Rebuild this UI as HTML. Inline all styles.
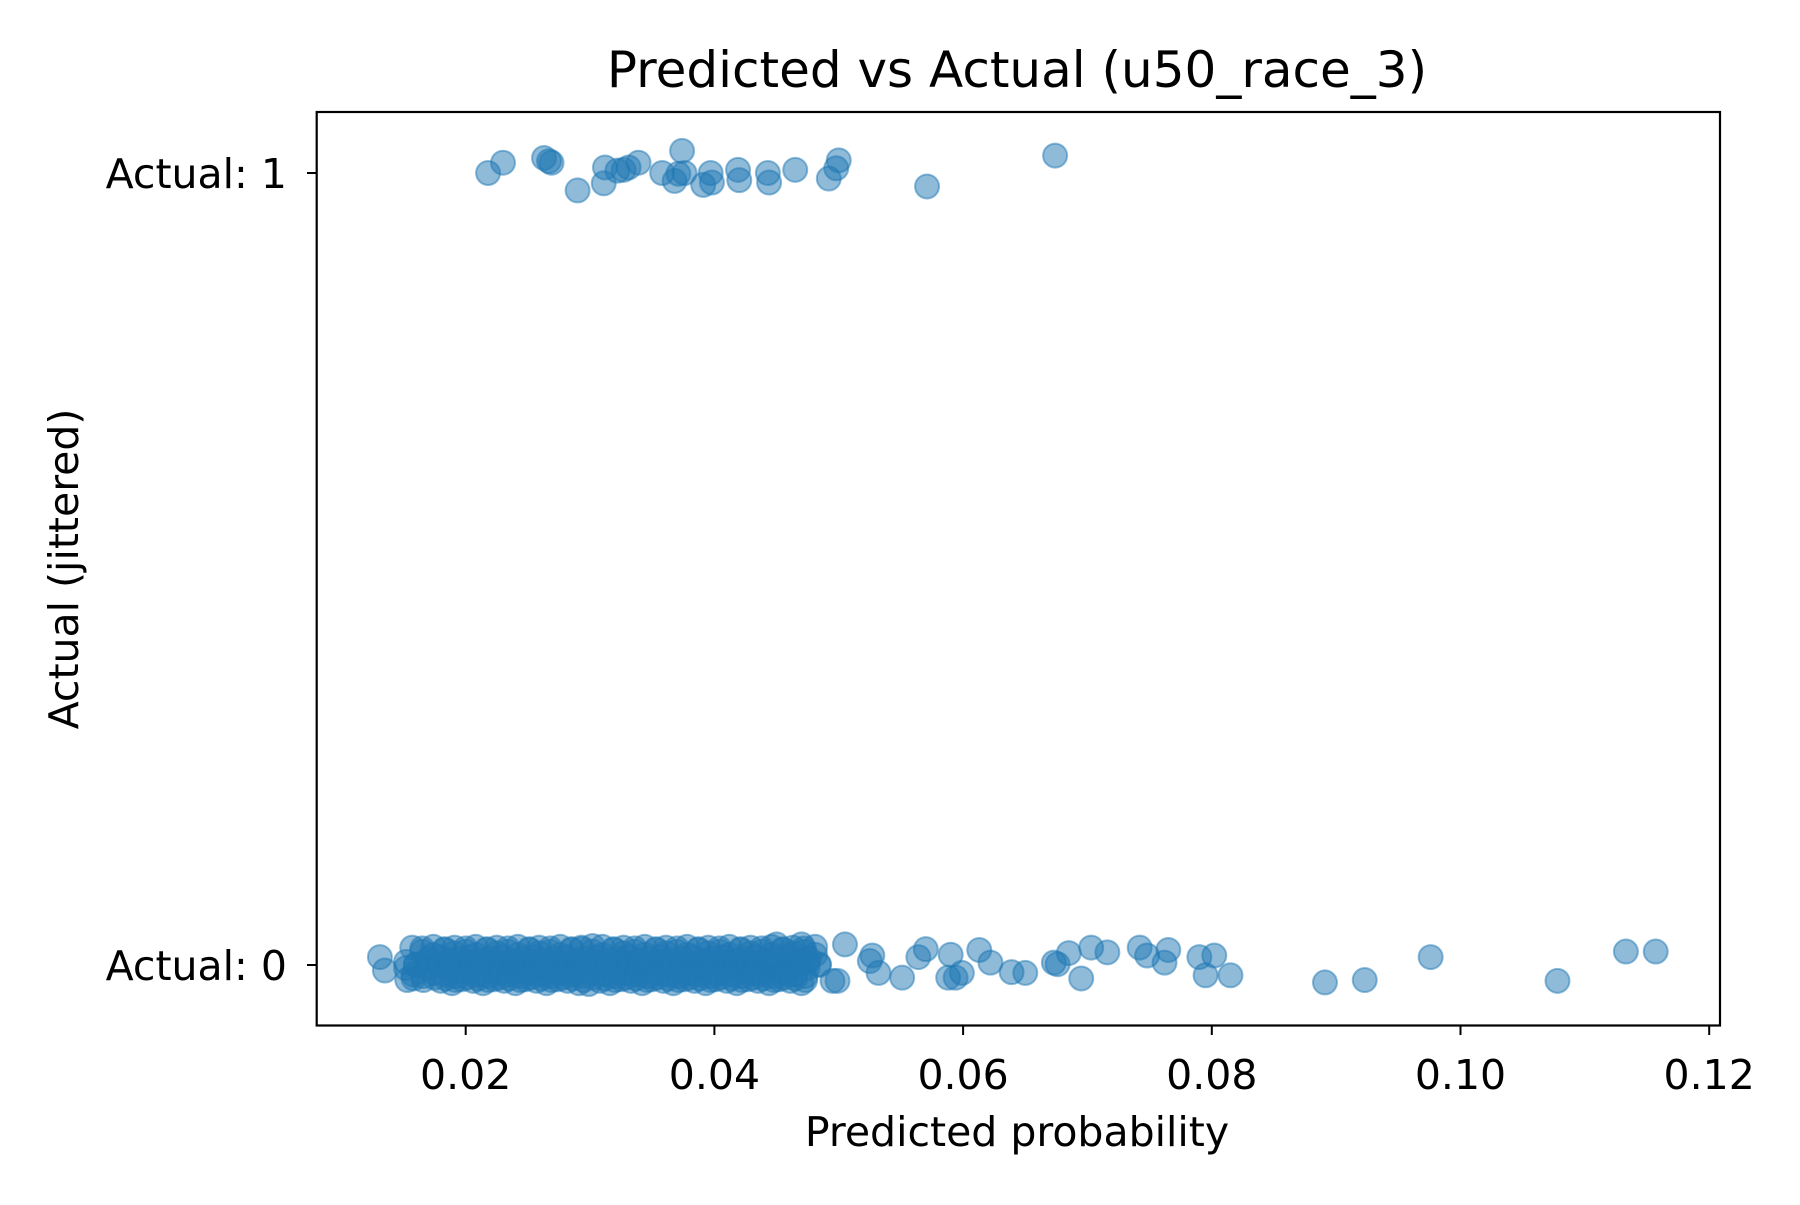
<!DOCTYPE html>
<html><head><meta charset="utf-8"><style>
body{margin:0;background:#fff}
svg text{font-family:"DejaVu Sans","Liberation Sans",sans-serif;fill:#000}
</style></head><body>
<svg id="chart" width="1800" height="1200" xmlns="http://www.w3.org/2000/svg">
<rect width="1800" height="1200" fill="#fff"/>
<g id="points"></g>
<rect x="316.7" y="112" width="1403.3" height="913.5" fill="none" stroke="#000" stroke-width="2.2"/>
<g id="axes"></g>
<text x="1017" y="87" font-size="50" text-anchor="middle">Predicted vs Actual (u50_race_3)</text>
<text x="1017" y="1146" font-size="41" text-anchor="middle">Predicted probability</text>
<text x="0" y="0" font-size="41" text-anchor="middle" transform="translate(78,569) rotate(-90)">Actual (jittered)</text>
</svg>
<script>
const xTicks=[0.02,0.04,0.06,0.08,0.10,0.12];
const xTickLabels=["0.02","0.04","0.06","0.08","0.10","0.12"];
const yTicks=[0,1];
const yTickLabels=["Actual: 0","Actual: 1"];
// Actual = 1 points
const pos1Pred=[0.0218,0.0230,0.0263,0.0267,0.0269,0.0290,0.0311,0.0312,0.0322,0.0327,0.0331,0.0339,0.0358,0.0368,0.0371,0.0374,0.0376,0.0391,0.0397,0.0398,0.0419,0.0420,0.0443,0.0444,0.0465,0.0492,0.0498,0.0500,0.0571,0.0674];
const pos1Jit=[0,0.013,0.019,0.015,0.013,-0.022,-0.013,0.007,0.003,0.004,0.007,0.013,0,-0.010,-0.001,0.028,0,-0.015,0,-0.012,0.004,-0.009,0,-0.012,0.004,-0.007,0.006,0.016,-0.017,0.022];
// Actual = 0 sparse points
const neg0Pred=[0.0131,0.0135,0.0153,0.0157,0.0450,0.0470,0.0495,0.0499,0.0505,0.0525,0.0527,0.0532,0.0551,0.0564,0.0570,0.0590,0.0588,0.0594,0.0599,0.0613,0.0622,0.0639,0.0650,0.0673,0.0676,0.0685,0.0695,0.0703,0.0716,0.0742,0.0748,0.0762,0.0765,0.0790,0.0795,0.0802,0.0815,0.0891,0.0923,0.0976,0.1078,0.1133,0.1157];
const neg0Jit=[0.010,-0.007,-0.019,0.022,0.026,0.026,-0.020,-0.020,0.026,0.005,0.012,-0.010,-0.016,0.010,0.020,0.013,-0.016,-0.016,-0.010,0.019,0.003,-0.009,-0.010,0.003,0.001,0.015,-0.017,0.022,0.016,0.022,0.012,0.003,0.019,0.010,-0.013,0.012,-0.013,-0.022,-0.019,0.010,-0.020,0.017,0.017];
// Actual = 0 dense cluster
const denseAPred=[0.0165,0.0174,0.0183,0.0191,0.0200,0.0208,0.0217,0.0225,0.0234,0.0242,0.0251,0.0259,0.0268,0.0276,0.0285,0.0293,0.0302,0.0310,0.0319,0.0327,0.0336,0.0344,0.0353,0.0361,0.0370,0.0378,0.0387,0.0395,0.0404,0.0412,0.0421,0.0429,0.0438,0.0446,0.0455,0.0463,0.0472,0.0481];
const denseAJit=[0.017,0.013,0.019,0.015,0.017,0.013,0.019,0.015,0.017,0.013,0.019,0.015,0.017,0.013,0.019,0.020,0.017,0.013,0.019,0.015,0.017,0.013,0.019,0.015,0.017,0.013,0.019,0.015,0.017,0.013,0.019,0.015,0.017,0.013,0.019,0.015,0.017,0.013];
const denseHJit=[0.021,0.023,0.020,0.022,0.021,0.023,0.020,0.022,0.021,0.023,0.020,0.022,0.021,0.023,0.020,0.022,0.024,0.023,0.020,0.022,0.021,0.023,0.020,0.022,0.021,0.023,0.020,0.022,0.021,0.023,0.020,0.022,0.021,0.023,0.020,0.022,0.021,0.023];
const denseBPred=[0.0152,0.0160,0.0169,0.0177,0.0186,0.0194,0.0203,0.0211,0.0220,0.0228,0.0237,0.0245,0.0254,0.0262,0.0271,0.0279,0.0288,0.0296,0.0305,0.0313,0.0322,0.0330,0.0339,0.0347,0.0356,0.0364,0.0373,0.0381,0.0390,0.0398,0.0407,0.0415,0.0424,0.0432,0.0441,0.0449,0.0458,0.0466,0.0475,0.0484];
const denseBJit=[-0.004,0.001,-0.004,0.001,-0.004,0.001,-0.004,0.001,-0.004,0.001,-0.004,0.001,-0.004,0.001,-0.004,0.001,-0.004,0.001,-0.004,0.001,-0.004,0.001,-0.004,0.001,-0.004,0.001,-0.004,0.001,-0.004,0.001,-0.004,0.001,-0.004,0.001,-0.004,0.001,-0.004,0.001,-0.004,0.001];
const denseFJit=[0.004,0.000,0.004,0.000,0.004,0.000,0.004,0.000,0.004,0.000,0.004,0.000,0.004,0.000,0.004,0.000,0.004,0.000,0.004,0.000,0.004,0.000,0.004,0.000,0.004,0.000,0.004,0.000,0.004,0.000,0.004,0.000,0.004,0.000,0.004,0.000,0.004,0.000,0.004,0.000];
const denseCPred=[0.0180,0.0189,0.0197,0.0206,0.0214,0.0223,0.0231,0.0240,0.0248,0.0257,0.0265,0.0274,0.0282,0.0291,0.0299,0.0308,0.0316,0.0325,0.0333,0.0342,0.0350,0.0359,0.0367,0.0376,0.0384,0.0393,0.0401,0.0410,0.0418,0.0427,0.0435,0.0444,0.0452,0.0461,0.0470];
const denseCJit=[-0.020,-0.023,-0.018,-0.020,-0.023,-0.018,-0.020,-0.023,-0.018,-0.020,-0.023,-0.018,-0.020,-0.023,-0.024,-0.020,-0.023,-0.018,-0.020,-0.023,-0.018,-0.020,-0.023,-0.018,-0.020,-0.023,-0.018,-0.020,-0.023,-0.018,-0.020,-0.023,-0.018,-0.020,-0.023];
const denseDPred=[0.0170,0.0179,0.0187,0.0196,0.0204,0.0212,0.0221,0.0229,0.0238,0.0246,0.0255,0.0263,0.0272,0.0280,0.0289,0.0297,0.0306,0.0314,0.0323,0.0331,0.0340,0.0348,0.0357,0.0365,0.0374,0.0382,0.0391,0.0399,0.0408,0.0416,0.0425,0.0433,0.0442,0.0450,0.0459,0.0467,0.0476];
const denseDJit=[0.008,0.010,0.006,0.008,0.010,0.006,0.008,0.010,0.006,0.008,0.010,0.006,0.008,0.010,0.006,0.008,0.010,0.006,0.008,0.010,0.006,0.008,0.010,0.006,0.008,0.010,0.006,0.008,0.010,0.006,0.008,0.010,0.006,0.008,0.010,0.006,0.008];
const denseEPred=[0.0158,0.0166,0.0175,0.0184,0.0192,0.0201,0.0210,0.0218,0.0227,0.0235,0.0244,0.0252,0.0261,0.0269,0.0278,0.0286,0.0295,0.0303,0.0312,0.0320,0.0329,0.0337,0.0346,0.0354,0.0363,0.0371,0.0380,0.0388,0.0397,0.0405,0.0414,0.0422,0.0431,0.0439,0.0448,0.0456,0.0465,0.0473];
const denseEJit=[-0.012,-0.014,-0.010,-0.012,-0.014,-0.010,-0.012,-0.014,-0.010,-0.012,-0.014,-0.010,-0.012,-0.014,-0.010,-0.012,-0.014,-0.010,-0.012,-0.014,-0.010,-0.012,-0.014,-0.010,-0.012,-0.014,-0.010,-0.012,-0.014,-0.010,-0.012,-0.014,-0.010,-0.012,-0.014,-0.010,-0.012,-0.014];
const denseGJit=[-0.017,-0.019,-0.016,-0.017,-0.019,-0.016,-0.017,-0.019,-0.016,-0.017,-0.019,-0.016,-0.017,-0.019,-0.016,-0.017,-0.019,-0.016,-0.017,-0.019,-0.016,-0.017,-0.019,-0.016,-0.017,-0.019,-0.016,-0.017,-0.019,-0.016,-0.017,-0.019,-0.016,-0.017,-0.019,-0.016,-0.017,-0.019];

const NS="http://www.w3.org/2000/svg";
function xScale(v){return 465.7+(v-0.02)*12435;}
function yScale(v){return 965-v*792;}
const pts=document.getElementById('points');
function plot(preds,jits,base,name){
  preds.forEach((p,i)=>{
    const c=document.createElementNS(NS,'circle');
    c.setAttribute('cx',xScale(p));
    c.setAttribute('cy',yScale(base+jits[i]));
    c.setAttribute('r',12);
    c.setAttribute('fill','rgba(31,119,180,0.5)');
    c.setAttribute('stroke','rgba(31,119,180,0.5)');
    c.setAttribute('stroke-width','2');
    
    
    pts.appendChild(c);
  });
}
plot(denseBPred,denseBJit,0,'point-actual-0');
plot(denseBPred,denseFJit,0,'point-actual-0');
plot(denseAPred,denseAJit,0,'point-actual-0');
plot(denseAPred,denseHJit,0,'point-actual-0');
plot(denseCPred,denseCJit,0,'point-actual-0');
plot(denseDPred,denseDJit,0,'point-actual-0');
plot(denseEPred,denseEJit,0,'point-actual-0');
plot(denseEPred,denseGJit,0,'point-actual-0');
plot(neg0Pred,neg0Jit,0,'point-actual-0');
plot(pos1Pred,pos1Jit,1,'point-actual-1');

const axes=document.getElementById('axes');
xTicks.forEach((t,i)=>{
  const x=xScale(t);
  const l=document.createElementNS(NS,'line');
  l.setAttribute('x1',x);l.setAttribute('x2',x);l.setAttribute('y1',1025.5);l.setAttribute('y2',1035);
  l.setAttribute('stroke','#000');l.setAttribute('stroke-width','2');
  
  
  axes.appendChild(l);
  const tx=document.createElementNS(NS,'text');
  tx.setAttribute('x',x);tx.setAttribute('y',1089);tx.setAttribute('font-size','41');tx.setAttribute('text-anchor','middle');
  tx.textContent=xTickLabels[i];
  
  
  axes.appendChild(tx);
});
yTicks.forEach((t,i)=>{
  const y=yScale(t);
  const l=document.createElementNS(NS,'line');
  l.setAttribute('x1',307);l.setAttribute('x2',316.7);l.setAttribute('y1',y);l.setAttribute('y2',y);
  l.setAttribute('stroke','#000');l.setAttribute('stroke-width','2');
  
  
  axes.appendChild(l);
  const tx=document.createElementNS(NS,'text');
  tx.setAttribute('x',287);tx.setAttribute('y',y+15);tx.setAttribute('font-size','41');tx.setAttribute('text-anchor','end');
  tx.textContent=yTickLabels[i];
  
  
  axes.appendChild(tx);
});
</script>
</body></html>
